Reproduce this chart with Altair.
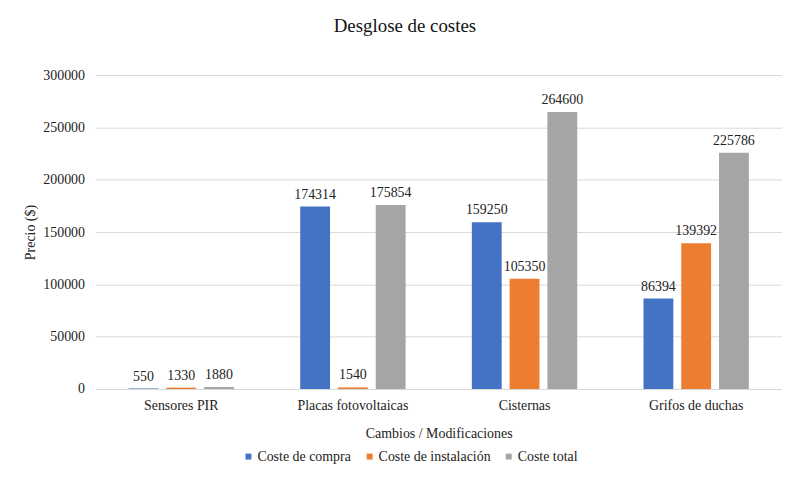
import altair as alt
import pandas as pd

categories = ["Sensores PIR", "Placas fotovoltaicas", "Cisternas", "Grifos de duchas"]
series = ["Coste de compra", "Coste de instalación", "Coste total"]
compra = [550, 174314, 159250, 86394]
instalacion = [1330, 1540, 105350, 139392]
total = [1880, 175854, 264600, 225786]
colors = ["#4472C4", "#ED7D31", "#A5A5A5"]

rows = []
for i, c in enumerate(categories):
    for s, vals in zip(series, [compra, instalacion, total]):
        rows.append({"cat": c, "serie": s, "valor": vals[i]})
df = pd.DataFrame(rows)

FONT = "Liberation Serif"
FS = 14

x = alt.X("cat:N", sort=categories,
          scale=alt.Scale(paddingInner=0.386, paddingOuter=0.193),
          axis=alt.Axis(title="Cambios / Modificaciones", labelAngle=0, ticks=False,
                        labelPadding=10, titlePadding=14, domainColor="#d9d9d9",
                        labelFont=FONT, titleFont=FONT, labelFontSize=FS,
                        titleFontSize=FS, labelColor="#222", titleColor="#222",
                        titleFontWeight="normal"))
xo = alt.XOffset("serie:N", sort=series,
                 scale=alt.Scale(paddingInner=0.21, paddingOuter=0))
y = alt.Y("valor:Q",
          scale=alt.Scale(domain=[0, 300000], nice=False),
          axis=alt.Axis(title="Precio ($)", values=list(range(0, 300001, 50000)),
                        format="d", ticks=False, domain=False, labelPadding=11,
                        gridColor="#d9d9d9",
                        labelFont=FONT, titleFont=FONT, labelFontSize=FS,
                        titleFontSize=FS, labelColor="#222", titleColor="#222",
                        titleFontWeight="normal",
                        titleX=-58, titleY=158, titleAngle=-90))

color = alt.Color("serie:N", sort=series,
                  scale=alt.Scale(domain=series, range=colors),
                  legend=alt.Legend(title=None, orient="none", direction="horizontal",
                                    legendX=147, legendY=377, symbolType="square",
                                    symbolSize=36, symbolStrokeWidth=0,
                                    labelFont=FONT, labelFontSize=14, labelColor="#222",
                                    columnPadding=11, labelOffset=2))

bars = alt.Chart(df).mark_bar().encode(x=x, xOffset=xo, y=y, color=color)
labels = alt.Chart(df).mark_text(baseline="bottom", dy=-5, fontSize=FS,
                                 font=FONT, color="#222").encode(
    x=alt.X("cat:N", sort=categories), xOffset=alt.XOffset("serie:N", sort=series),
    y="valor:Q", text=alt.Text("valor:Q", format="d"))

chart = alt.layer(bars, labels).properties(
    width=691, height=316,
    title=alt.TitleParams("Desglose de costes", fontSize=19, font=FONT,
                          fontWeight="normal", color="#111", anchor="middle",
                          dx=-34, offset=32),
    autosize=alt.AutoSizeParams(type="none"),
    padding={"left": 88, "top": 66, "right": 0, "bottom": 79},
).configure(font=FONT).configure_view(stroke=None)

chart.save("out.html", embed_options={"renderer": "svg", "actions": False})
